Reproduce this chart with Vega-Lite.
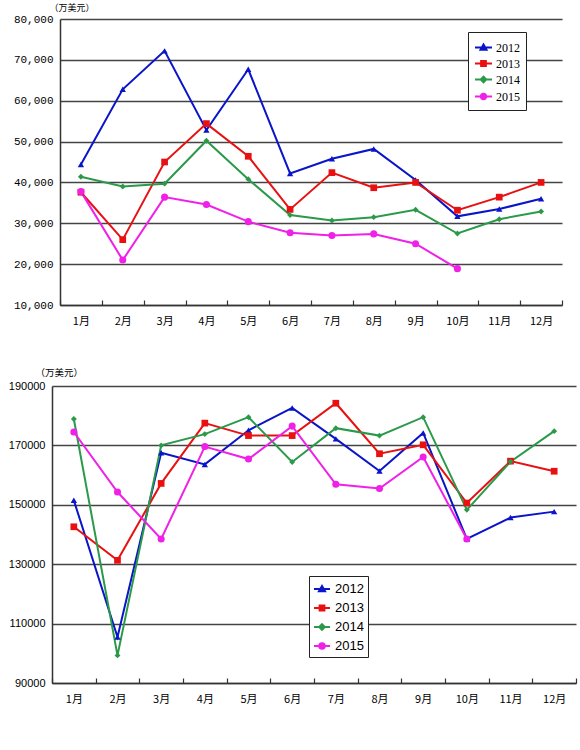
{
  "$schema": "https://vega.github.io/schema/vega-lite/v6.json",
  "padding": {"left": 5, "top": 3, "right": 4, "bottom": 5},
  "background": "white",
  "spacing": 41,
  "columns": 1,
  "align": "none",
  "config": {"view": {"stroke": null}},
  "resolve": {"scale": {"color": "independent", "x": "independent", "y": "independent"}, "legend": {"color": "independent"}},
  "datasets": {
    "top": [
      {"m": "1月", "year": "2012", "v": 44400}, {"m": "2月", "year": "2012", "v": 62800}, {"m": "3月", "year": "2012", "v": 72200}, {"m": "4月", "year": "2012", "v": 52800}, {"m": "5月", "year": "2012", "v": 67700}, {"m": "6月", "year": "2012", "v": 42200}, {"m": "7月", "year": "2012", "v": 45800}, {"m": "8月", "year": "2012", "v": 48200}, {"m": "9月", "year": "2012", "v": 40600}, {"m": "10月", "year": "2012", "v": 31700}, {"m": "11月", "year": "2012", "v": 33500}, {"m": "12月", "year": "2012", "v": 36000},
      {"m": "1月", "year": "2013", "v": 37600}, {"m": "2月", "year": "2013", "v": 26000}, {"m": "3月", "year": "2013", "v": 45000}, {"m": "4月", "year": "2013", "v": 54400}, {"m": "5月", "year": "2013", "v": 46400}, {"m": "6月", "year": "2013", "v": 33400}, {"m": "7月", "year": "2013", "v": 42400}, {"m": "8月", "year": "2013", "v": 38700}, {"m": "9月", "year": "2013", "v": 40000}, {"m": "10月", "year": "2013", "v": 33200}, {"m": "11月", "year": "2013", "v": 36400}, {"m": "12月", "year": "2013", "v": 40000},
      {"m": "1月", "year": "2014", "v": 41400}, {"m": "2月", "year": "2014", "v": 39000}, {"m": "3月", "year": "2014", "v": 39700}, {"m": "4月", "year": "2014", "v": 50200}, {"m": "5月", "year": "2014", "v": 40800}, {"m": "6月", "year": "2014", "v": 32000}, {"m": "7月", "year": "2014", "v": 30700}, {"m": "8月", "year": "2014", "v": 31500}, {"m": "9月", "year": "2014", "v": 33300}, {"m": "10月", "year": "2014", "v": 27500}, {"m": "11月", "year": "2014", "v": 31000}, {"m": "12月", "year": "2014", "v": 32900},
      {"m": "1月", "year": "2015", "v": 37750}, {"m": "2月", "year": "2015", "v": 21000}, {"m": "3月", "year": "2015", "v": 36400}, {"m": "4月", "year": "2015", "v": 34600}, {"m": "5月", "year": "2015", "v": 30400}, {"m": "6月", "year": "2015", "v": 27700}, {"m": "7月", "year": "2015", "v": 27000}, {"m": "8月", "year": "2015", "v": 27400}, {"m": "9月", "year": "2015", "v": 25000}, {"m": "10月", "year": "2015", "v": 18900}
    ],
    "bottom": [
      {"m": "1月", "year": "2012", "v": 151500}, {"m": "2月", "year": "2012", "v": 105500}, {"m": "3月", "year": "2012", "v": 167500}, {"m": "4月", "year": "2012", "v": 163600}, {"m": "5月", "year": "2012", "v": 175100}, {"m": "6月", "year": "2012", "v": 182600}, {"m": "7月", "year": "2012", "v": 172200}, {"m": "8月", "year": "2012", "v": 161400}, {"m": "9月", "year": "2012", "v": 174200}, {"m": "10月", "year": "2012", "v": 138500}, {"m": "11月", "year": "2012", "v": 145700}, {"m": "12月", "year": "2012", "v": 147700},
      {"m": "1月", "year": "2013", "v": 142600}, {"m": "2月", "year": "2013", "v": 131300}, {"m": "3月", "year": "2013", "v": 157200}, {"m": "4月", "year": "2013", "v": 177500}, {"m": "5月", "year": "2013", "v": 173300}, {"m": "6月", "year": "2013", "v": 173300}, {"m": "7月", "year": "2013", "v": 184200}, {"m": "8月", "year": "2013", "v": 167200}, {"m": "9月", "year": "2013", "v": 170200}, {"m": "10月", "year": "2013", "v": 150600}, {"m": "11月", "year": "2013", "v": 164700}, {"m": "12月", "year": "2013", "v": 161300},
      {"m": "1月", "year": "2014", "v": 178900}, {"m": "2月", "year": "2014", "v": 99300}, {"m": "3月", "year": "2014", "v": 170000}, {"m": "4月", "year": "2014", "v": 173800}, {"m": "5月", "year": "2014", "v": 179500}, {"m": "6月", "year": "2014", "v": 164400}, {"m": "7月", "year": "2014", "v": 175800}, {"m": "8月", "year": "2014", "v": 173300}, {"m": "9月", "year": "2014", "v": 179500}, {"m": "10月", "year": "2014", "v": 148300}, {"m": "11月", "year": "2014", "v": 164500}, {"m": "12月", "year": "2014", "v": 174800},
      {"m": "1月", "year": "2015", "v": 174500}, {"m": "2月", "year": "2015", "v": 154300}, {"m": "3月", "year": "2015", "v": 138500}, {"m": "4月", "year": "2015", "v": 169600}, {"m": "5月", "year": "2015", "v": 165400}, {"m": "6月", "year": "2015", "v": 176500}, {"m": "7月", "year": "2015", "v": 156900}, {"m": "8月", "year": "2015", "v": 155500}, {"m": "9月", "year": "2015", "v": 166100}, {"m": "10月", "year": "2015", "v": 138500}
    ]
  },
  "concat": [
    {
      "width": 510,
      "height": 286,
      "data": {"name": "top"},
      "encoding": {
        "x": {"field": "m", "type": "ordinal", "sort": ["1月","2月","3月","4月","5月","6月","7月","8月","9月","10月","11月","12月"], "bandPosition": 0.5,
          "scale": {"type": "band", "paddingInner": 0, "paddingOuter": 0, "range": [8, 510]},
          "axis": {"title": null, "labelAngle": 0, "labelFont": "Noto Sans CJK SC", "labelFontSize": 11, "labelColor": "black", "tickBand": "extent", "tickSize": -5, "tickColor": "#333", "tickWidth": 1.2, "domainColor": "#333", "domainWidth": 1.5, "labelPadding": 15, "grid": false}},
        "y": {"field": "v", "type": "quantitative", "scale": {"domain": [10000, 80000], "nice": false, "zero": false},
          "axis": {"values": [10000,20000,30000,40000,50000,60000,70000,80000], "format": ",d", "labelFont": "Liberation Mono", "labelFontSize": 11, "labelColor": "black", "ticks": false, "domainColor": "#333", "domainWidth": 1.5, "grid": true, "gridColor": "#444", "gridWidth": 1.5, "labelPadding": 7, "offset": -8,
            "title": "（万美元）", "titleAngle": 0, "titleFont": "Noto Sans CJK SC", "titleFontSize": 9, "titleFontWeight": "normal", "titleColor": "black", "titleX": -11, "titleY": -12, "titleAlign": "left", "titleBaseline": "middle"}},
        "color": {"field": "year", "type": "nominal", "scale": {"domain": ["2012","2013","2014","2015"], "range": ["#0A14C8","#E81010","#2A9A4A","#F020E8"]},
          "legend": {"title": null, "orient": "none", "legendX": 416, "legendY": 13, "strokeColor": "#222", "fillColor": "white", "padding": 6, "symbolSize": 289, "labelFont": "Liberation Serif", "labelFontSize": 12, "labelColor": "black", "rowPadding": 0, "labelOffset": 3,
            "encode": {"symbols": {"update": {
              "shape": {"signal": "datum.value === '2012' ? 'M-1,0H1M0,-0.35L0.35,0.25L-0.35,0.25Z' : datum.value === '2013' ? 'M-1,0H1M-0.28,-0.28H0.28V0.28H-0.28Z' : datum.value === '2014' ? 'M-1,0H1M0,-0.32L0.32,0L0,0.32L-0.32,0Z' : 'M-1,0H1M0.32,0A0.32,0.32,0,1,1,-0.32,0A0.32,0.32,0,1,1,0.32,0Z'"},
              "fill": {"signal": "datum.value === '2012' ? '#0A14C8' : datum.value === '2013' ? '#E81010' : datum.value === '2014' ? '#2A9A4A' : '#F020E8'"},
              "stroke": {"signal": "datum.value === '2012' ? '#0A14C8' : datum.value === '2013' ? '#E81010' : datum.value === '2014' ? '#2A9A4A' : '#F020E8'"},
              "strokeWidth": {"value": 2},
              "opacity": {"value": 1}}}}}}
      },
      "layer": [
        {"mark": {"type": "line", "strokeWidth": 2}},
        {"transform": [{"filter": "datum.year === '2012'"}], "mark": {"type": "point", "filled": true, "opacity": 1, "shape": "triangle-up", "size": 40}},
        {"transform": [{"filter": "datum.year === '2013'"}], "mark": {"type": "point", "filled": true, "opacity": 1, "shape": "square", "size": 45}},
        {"transform": [{"filter": "datum.year === '2014'"}], "mark": {"type": "point", "filled": true, "opacity": 1, "shape": "diamond", "size": 35}},
        {"transform": [{"filter": "datum.year === '2015'"}], "mark": {"type": "point", "filled": true, "opacity": 1, "shape": "circle", "size": 50}}
      ]
    },
    {
      "width": 524,
      "height": 297,
      "data": {"name": "bottom"},
      "encoding": {
        "x": {"field": "m", "type": "ordinal", "sort": ["1月","2月","3月","4月","5月","6月","7月","8月","9月","10月","11月","12月"], "bandPosition": 0.5,
          "scale": {"type": "band", "paddingInner": 0, "paddingOuter": 0},
          "axis": {"title": null, "labelAngle": 0, "labelFont": "Noto Sans CJK SC", "labelFontSize": 11, "labelColor": "black", "tickBand": "extent", "tickSize": -5, "tickColor": "#333", "tickWidth": 1.2, "domainColor": "#333", "domainWidth": 1.5, "labelPadding": 15, "grid": false}},
        "y": {"field": "v", "type": "quantitative", "scale": {"domain": [90000, 190000], "nice": false, "zero": false},
          "axis": {"values": [90000,110000,130000,150000,170000,190000], "format": "d", "labelFont": "Liberation Sans", "labelFontSize": 11, "labelColor": "black", "ticks": false, "domainColor": "#333", "domainWidth": 1.5, "grid": true, "gridColor": "#444", "gridWidth": 1.3, "labelPadding": 7, "minExtent": 47, "maxExtent": 47,
            "title": "（万美元）", "titleAngle": 0, "titleFont": "Noto Sans CJK SC", "titleFontSize": 9.5, "titleFontWeight": "normal", "titleColor": "black", "titleX": -17, "titleY": -14, "titleAlign": "left", "titleBaseline": "middle"}},
        "color": {"field": "year", "type": "nominal", "scale": {"domain": ["2012","2013","2014","2015"], "range": ["#0A14C8","#E81010","#2A9A4A","#F020E8"]},
          "legend": {"title": null, "orient": "none", "legendX": 257, "legendY": 190, "strokeColor": "#222", "fillColor": "white", "padding": 4, "symbolSize": 256, "labelFont": "Liberation Sans", "labelFontSize": 13, "labelColor": "black", "rowPadding": 3, "labelOffset": 4,
            "encode": {"symbols": {"update": {
              "shape": {"signal": "datum.value === '2012' ? 'M-1,0H1M0,-0.38L0.38,0.28L-0.38,0.28Z' : datum.value === '2013' ? 'M-1,0H1M-0.3,-0.3H0.3V0.3H-0.3Z' : datum.value === '2014' ? 'M-1,0H1M0,-0.35L0.35,0L0,0.35L-0.35,0Z' : 'M-1,0H1M0.35,0A0.35,0.35,0,1,1,-0.35,0A0.35,0.35,0,1,1,0.35,0Z'"},
              "fill": {"signal": "datum.value === '2012' ? '#0A14C8' : datum.value === '2013' ? '#E81010' : datum.value === '2014' ? '#2A9A4A' : '#F020E8'"},
              "stroke": {"signal": "datum.value === '2012' ? '#0A14C8' : datum.value === '2013' ? '#E81010' : datum.value === '2014' ? '#2A9A4A' : '#F020E8'"},
              "strokeWidth": {"value": 2},
              "opacity": {"value": 1}}}}}}
      },
      "layer": [
        {"mark": {"type": "line", "strokeWidth": 2}},
        {"transform": [{"filter": "datum.year === '2012'"}], "mark": {"type": "point", "filled": true, "opacity": 1, "shape": "triangle-up", "size": 40}},
        {"transform": [{"filter": "datum.year === '2013'"}], "mark": {"type": "point", "filled": true, "opacity": 1, "shape": "square", "size": 45}},
        {"transform": [{"filter": "datum.year === '2014'"}], "mark": {"type": "point", "filled": true, "opacity": 1, "shape": "diamond", "size": 35}},
        {"transform": [{"filter": "datum.year === '2015'"}], "mark": {"type": "point", "filled": true, "opacity": 1, "shape": "circle", "size": 50}}
      ]
    }
  ]
}
